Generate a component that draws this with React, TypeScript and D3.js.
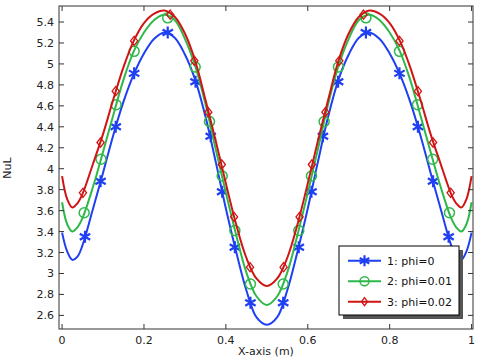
import React from "react";
import * as d3 from "d3";

const xs = [0, 0.0125, 0.025, 0.0375, 0.05, 0.075, 0.1, 0.125, 0.15, 0.175, 0.2, 0.225, 0.25, 0.275, 0.3, 0.325, 0.35, 0.375, 0.4, 0.425, 0.45, 0.475, 0.5, 0.525, 0.55, 0.575, 0.6, 0.625, 0.65, 0.675, 0.7, 0.725, 0.75, 0.775, 0.8, 0.825, 0.85, 0.875, 0.9, 0.925, 0.95, 0.9625, 0.975, 0.9875, 1];

const blueY = [3.39, 3.21, 3.13, 3.16, 3.27, 3.61, 3.96, 4.32, 4.64, 4.90, 5.10, 5.24, 5.30, 5.25, 5.09, 4.85, 4.50, 4.07, 3.62, 3.21, 2.84, 2.58, 2.51, 2.58, 2.84, 3.21, 3.62, 4.07, 4.50, 4.85, 5.09, 5.25, 5.30, 5.24, 5.10, 4.90, 4.64, 4.32, 3.96, 3.61, 3.27, 3.16, 3.13, 3.21, 3.39];
const greenY = [3.68, 3.47, 3.40, 3.44, 3.53, 3.82, 4.16, 4.51, 4.85, 5.12, 5.30, 5.42, 5.47, 5.42, 5.24, 4.98, 4.62, 4.19, 3.77, 3.37, 3.01, 2.78, 2.70, 2.78, 3.01, 3.37, 3.77, 4.19, 4.62, 4.98, 5.24, 5.42, 5.47, 5.42, 5.30, 5.12, 4.85, 4.51, 4.16, 3.82, 3.53, 3.44, 3.40, 3.47, 3.68];
const redY = [3.93, 3.71, 3.63, 3.67, 3.76, 4.04, 4.33, 4.66, 4.97, 5.22, 5.39, 5.48, 5.51, 5.45, 5.29, 5.03, 4.66, 4.27, 3.86, 3.47, 3.15, 2.95, 2.88, 2.95, 3.15, 3.47, 3.86, 4.27, 4.66, 5.03, 5.29, 5.45, 5.51, 5.48, 5.39, 5.22, 4.97, 4.66, 4.33, 4.04, 3.76, 3.67, 3.63, 3.71, 3.93];

const blueMarkX = [0.056, 0.094, 0.131, 0.176, 0.258, 0.326, 0.363, 0.391, 0.422, 0.46, 0.54, 0.578, 0.609, 0.637, 0.674, 0.742, 0.824, 0.869, 0.906, 0.944];
const blueMarkY = [3.35, 3.88, 4.40, 4.91, 5.30, 4.83, 4.31, 3.78, 3.25, 2.72, 2.72, 3.25, 3.78, 4.31, 4.83, 5.30, 4.91, 4.40, 3.88, 3.35];
const greenMarkX = [0.054, 0.095, 0.132, 0.176, 0.258, 0.325, 0.36, 0.391, 0.422, 0.46, 0.54, 0.578, 0.609, 0.64, 0.675, 0.742, 0.824, 0.868, 0.905, 0.946];
const greenMarkY = [3.58, 4.09, 4.61, 5.12, 5.44, 4.97, 4.45, 3.93, 3.41, 2.90, 2.90, 3.41, 3.93, 4.45, 4.97, 5.44, 5.12, 4.61, 4.09, 3.58];
const redMarkX = [0.051, 0.094, 0.131, 0.176, 0.264, 0.323, 0.357, 0.39, 0.42, 0.459, 0.541, 0.58, 0.61, 0.643, 0.677, 0.736, 0.824, 0.869, 0.906, 0.949];
const redMarkY = [3.77, 4.25, 4.74, 5.22, 5.47, 5.03, 4.54, 4.04, 3.54, 3.06, 3.06, 3.54, 4.04, 4.54, 5.03, 5.47, 5.22, 4.74, 4.25, 3.77];

const xTicks = [0, 0.2, 0.4, 0.6, 0.8, 1];
const xTickLabels = ["0", "0.2", "0.4", "0.6", "0.8", "1"];
const yTicks = [2.6, 2.8, 3, 3.2, 3.4, 3.6, 3.8, 4, 4.2, 4.4, 4.6, 4.8, 5, 5.2, 5.4];
const yTickLabels = ["2.6", "2.8", "3", "3.2", "3.4", "3.6", "3.8", "4", "4.2", "4.4", "4.6", "4.8", "5", "5.2", "5.4"];
const legendLabels = ["1: phi=0", "2: phi=0.01", "3: phi=0.02"];

const BLUE = "#1f3ff2";
const GREEN = "#2fb84a";
const RED = "#d01414";
const FONT = "DejaVu Sans, sans-serif";

const L = 59, R = 473, T = 6, B = 329;

function starPath(cx: number, cy: number, r: number) {
  const a = r * Math.cos(Math.PI / 6);
  const b = r * Math.sin(Math.PI / 6);
  return `M${cx},${cy - r}L${cx},${cy + r}M${cx - a},${cy - b}L${cx + a},${cy + b}M${cx - a},${cy + b}L${cx + a},${cy - b}`;
}
function diamondPath(cx: number, cy: number, w: number, h: number) {
  return `M${cx},${cy - h}L${cx + w},${cy}L${cx},${cy + h}L${cx - w},${cy}Z`;
}

function Marker({ kind, cx, cy, color, legend }: { kind: string; cx: number; cy: number; color: string; legend?: boolean }) {
  if (kind === "star") return <path d={starPath(cx, cy, legend ? 5.5 : 6)} stroke={color} strokeWidth={2.2} fill="none" />;
  if (kind === "circle") return <circle cx={cx} cy={cy} r={legend ? 4.5 : 5} stroke={color} strokeWidth={1.5} fill="none" />;
  return <path d={diamondPath(cx, cy, legend ? 3 : 3.6, legend ? 4 : 4.6)} stroke={color} strokeWidth={1.3} fill="none" />;
}

export default function App() {
  const x = d3.scaleLinear().domain([-0.0075, 1.0035]).range([L, R]);
  const y = d3.scaleLinear().domain([2.47, 5.553]).range([B, T]);
  const line = d3
    .line<number>()
    .x((_, i) => x(xs[i]))
    .y((d) => y(d))
    .curve(d3.curveCatmullRom.alpha(0.5));

  const series = [
    { ys: blueY, mx: blueMarkX, my: blueMarkY, color: BLUE, kind: "star" },
    { ys: greenY, mx: greenMarkX, my: greenMarkY, color: GREEN, kind: "circle" },
    { ys: redY, mx: redMarkX, my: redMarkY, color: RED, kind: "diamond" },
  ];

  const lgX = 339, lgY = 246, lgW = 120, lgH = 69;
  const rowY = [260.7, 281.3, 301.7];

  return (
    <svg width={480} height={361} style={{ position: "absolute", left: 0, top: 0, background: "#fff" }}>
      <rect x={0} y={0} width={480} height={361} fill="#fff" />
      <defs>
        <clipPath id="plotclip">
          <rect x={L} y={T} width={R - L} height={B - T} />
        </clipPath>
      </defs>
      <g clipPath="url(#plotclip)">
        {series.map((s, k) => (
          <g key={k}>
            <path d={line(s.ys) || ""} stroke={s.color} strokeWidth={2} fill="none" />
            {s.mx.map((mx, i) => (
              <Marker key={i} kind={s.kind} cx={x(mx)} cy={y(s.my[i])} color={s.color} />
            ))}
          </g>
        ))}
      </g>
      {/* frame */}
      <rect x={L} y={T} width={R - L} height={B - T} fill="none" stroke="#333" strokeWidth={1} />
      {xTicks.map((t, i) => (
        <g key={"xt" + i}>
          <line x1={x(t)} x2={x(t)} y1={B} y2={B - 5} stroke="#333" />
          <line x1={x(t)} x2={x(t)} y1={T} y2={T + 5} stroke="#333" />
          <text x={x(t)} y={344} textAnchor="middle" fontFamily={FONT} fontSize={11} fill="#222">
            {xTickLabels[i]}
          </text>
        </g>
      ))}
      {yTicks.map((t, i) => (
        <g key={"yt" + i}>
          <line x1={L} x2={L + 5} y1={y(t)} y2={y(t)} stroke="#333" />
          <line x1={R} x2={R - 5} y1={y(t)} y2={y(t)} stroke="#333" />
          <text x={54} y={y(t) + 4} textAnchor="end" fontFamily={FONT} fontSize={11} fill="#222">
            {yTickLabels[i]}
          </text>
        </g>
      ))}
      <text x={266} y={355} textAnchor="middle" fontFamily={FONT} fontSize={11} fill="#222">
        X-axis (m)
      </text>
      <text transform={`translate(11,168) rotate(-90)`} textAnchor="middle" fontFamily={FONT} fontSize={11} fill="#222">
        NuL
      </text>
      {/* legend */}
      <rect x={lgX + 4} y={lgY + 4} width={lgW} height={lgH} fill="#555" />
      <rect x={lgX} y={lgY} width={lgW} height={lgH} fill="#fff" stroke="#000" strokeWidth={1} />
      {series.map((s, k) => (
        <g key={"lg" + k}>
          <line x1={348} x2={381} y1={rowY[k]} y2={rowY[k]} stroke={s.color} strokeWidth={2} />
          <Marker kind={s.kind} cx={364.5} cy={rowY[k]} color={s.color} legend />
          <text x={387} y={rowY[k] + 4} fontFamily={FONT} fontSize={11} fill="#111">
            {legendLabels[k]}
          </text>
        </g>
      ))}
    </svg>
  );
}
